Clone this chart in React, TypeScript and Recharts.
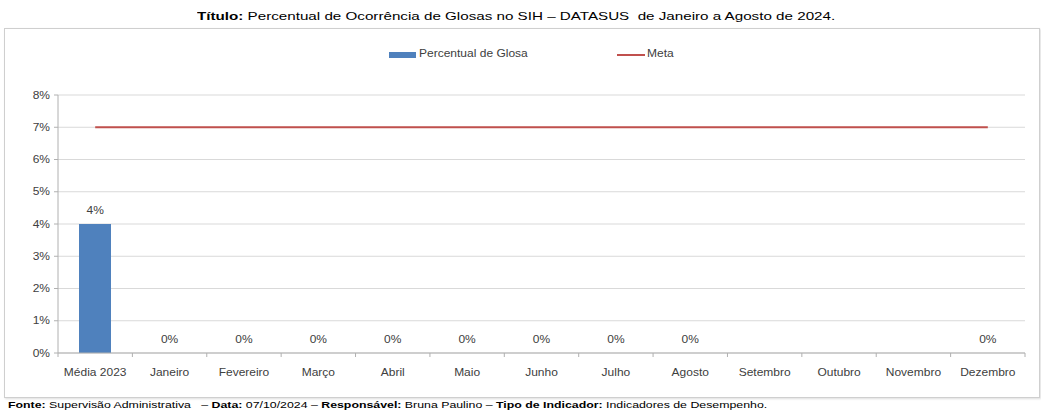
import React from 'react';
import { ComposedChart, Bar, Line, XAxis, YAxis, CartesianGrid, LabelList } from 'recharts';

const categories = ['Média 2023', 'Janeiro', 'Fevereiro', 'Março', 'Abril', 'Maio', 'Junho', 'Julho', 'Agosto', 'Setembro', 'Outubro', 'Novembro', 'Dezembro'];
const glosa: (number | null)[] = [4, 0, 0, 0, 0, 0, 0, 0, 0, null, null, null, 0];
const meta = [7, 7, 7, 7, 7, 7, 7, 7, 7, 7, 7, 7, 7];
const yTicks = [0, 1, 2, 3, 4, 5, 6, 7, 8];

const data = categories.map((name, i) => ({ name, glosa: glosa[i], meta: meta[i] }));

const font = '"Liberation Sans", Arial, sans-serif';
const W = 1041;
const H = 414;
const margin = { top: 95, right: 16, bottom: 41, left: 8 };
const yAxisWidth = 50;
const band = (W - margin.left - margin.right - yAxisWidth) / categories.length;
const stretch = 1.2;

// x tick: label at center, tick marks at the band edges like Excel
const CatTick = (props: any) => {
  const { x, y, payload, index } = props;
  return (
    <g>
      <line x1={x - band / 2} x2={x - band / 2} y1={y - 8} y2={y - 4} stroke="#b0b0b0" />
      {index === categories.length - 1 && (
        <line x1={x + band / 2} x2={x + band / 2} y1={y - 8} y2={y - 4} stroke="#b0b0b0" />
      )}
      <text transform={`translate(${x},${y + 15}) scale(${stretch},1)`} textAnchor="middle" fontSize={10} fill="#404040" fontFamily={font}>
        {payload.value}
      </text>
    </g>
  );
};

const YTick = (props: any) => {
  const { x, y, payload } = props;
  return (
    <text transform={`translate(${x - 2},${y + 3.5}) scale(${stretch},1)`} textAnchor="end" fontSize={10} fill="#404040" fontFamily={font}>
      {`${payload.value}%`}
    </text>
  );
};

const ValueLabel = (props: any) => {
  const { x, y, value } = props;
  if (value === null || value === undefined) return null;
  return (
    <text transform={`translate(${x},${y - 10}) scale(${stretch},1)`} textAnchor="middle" fontSize={10} fill="#404040" fontFamily={font}>
      {`${value}%`}
    </text>
  );
};

// legend drawn as plain html so it does not push the plot down
const ChartLegend = () => (
  <div style={{ position: 'absolute', left: 0, top: 48, width: W, height: 14, fontSize: 10, color: '#404040' }}>
    <span style={{ position: 'absolute', left: 389, top: 4, width: 27, height: 6, background: '#4f81bd' }} />
    <span style={{ position: 'absolute', left: 419, top: 0, whiteSpace: 'nowrap', transform: `scaleX(${stretch})`, transformOrigin: 'left' }}>Percentual de Glosa</span>
    <span style={{ position: 'absolute', left: 617, top: 6, width: 28, height: 2, background: '#c0504d' }} />
    <span style={{ position: 'absolute', left: 647, top: 0, transform: `scaleX(${stretch})`, transformOrigin: 'left' }}>Meta</span>
  </div>
);

export default function App() {
  return (
    <div style={{ position: 'absolute', left: 0, top: 0, width: W, height: H, background: '#fff', fontFamily: font }}>
      <div style={{ position: 'absolute', top: 10, left: 197, whiteSpace: 'nowrap', fontSize: 11, color: '#000', transform: 'scaleX(1.38)', transformOrigin: 'left' }}>
        <b>Título:</b> Percentual de Ocorrência de Glosas no SIH – DATASUS&nbsp; de Janeiro a Agosto de 2024.
      </div>
      <div style={{ position: 'absolute', left: 4, top: 28, width: 1034, height: 368, border: '1px solid #cfcfcf', boxShadow: '1px 1px 2px #ddd' }} />
      <ChartLegend />
      <div style={{ position: 'absolute', left: 0, top: 0 }}>
        <ComposedChart width={W} height={H} data={data} margin={margin}>
          <CartesianGrid vertical={false} stroke="#d9d9d9" />
          <XAxis
            dataKey="name"
            axisLine={{ stroke: '#b0b0b0' }}
            tickLine={false}
            tick={<CatTick />}
            interval={0}
            height={20}
          />
          <YAxis
            domain={[0, 8]}
            ticks={yTicks}
            width={yAxisWidth}
            axisLine={{ stroke: '#b0b0b0' }}
            tickLine={{ stroke: '#b0b0b0' }}
            tickSize={4}
            tick={<YTick />}
          />
          <Bar dataKey="glosa" fill="#4f81bd" barSize={32} isAnimationActive={false} />
          <Line dataKey="meta" stroke="#c0504d" strokeWidth={2} dot={false} activeDot={false} isAnimationActive={false} />
          <Line dataKey="glosa" stroke="none" dot={false} activeDot={false} legendType="none" isAnimationActive={false}>
            <LabelList dataKey="glosa" content={<ValueLabel />} />
          </Line>
        </ComposedChart>
      </div>
      <div style={{ position: 'absolute', left: 8, top: 400, whiteSpace: 'nowrap', fontSize: 9, color: '#000', transform: 'scaleX(1.37)', transformOrigin: 'left' }}>
        <b>Fonte:</b> Supervisão Administrativa&nbsp;&nbsp; – <b>Data:</b> 07/10/2024 – <b>Responsável:</b> Bruna Paulino – <b>Tipo de Indicador:</b> Indicadores de Desempenho.
      </div>
    </div>
  );
}
